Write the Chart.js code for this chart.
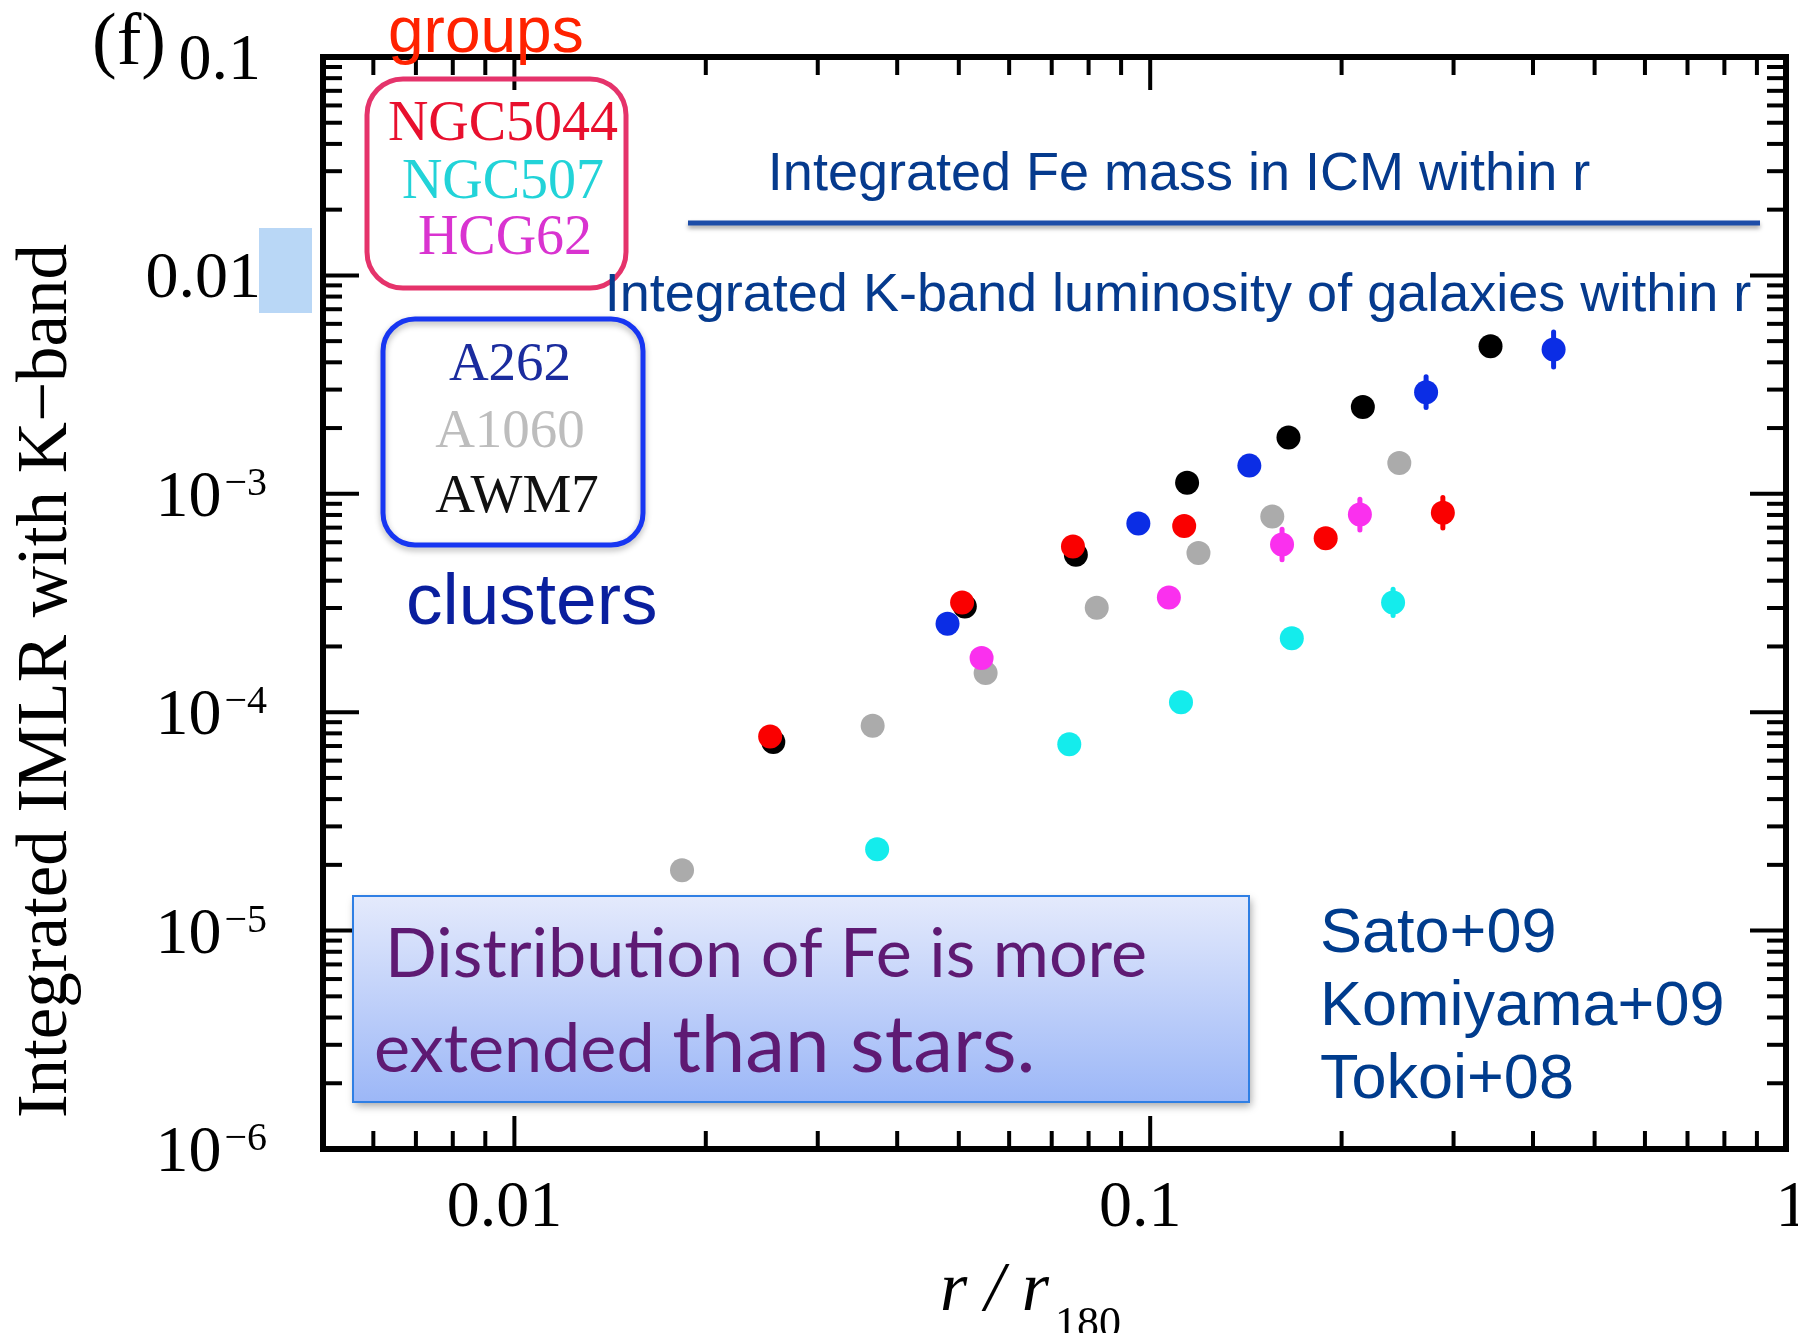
<!DOCTYPE html>
<html>
<head>
<meta charset="utf-8">
<script src="https://cdn.jsdelivr.net/npm/chart.js"></script>
<style>
  html, body { margin: 0; padding: 0; background: #fff; }
  canvas { display: block; }
</style>
</head>
<body>
<canvas id="c" width="1798" height="1333"></canvas>
<script>
// Integrated iron-mass-to-light ratio (IMLR, K band) versus r / r180

// Groups
const rNGC5044    = [0.02525, 0.0506, 0.0756, 0.1131, 0.1888, 0.2886];
const imlrNGC5044 = [7.74e-5, 3.18e-4, 5.74e-4, 7.12e-4, 6.26e-4, 8.19e-4];
const errNGC5044  = [0, 0, 0, 0, 0, 0.07];

const rNGC507     = [0.0372, 0.0746, 0.1118, 0.167, 0.241];
const imlrNGC507  = [2.36e-5, 7.14e-5, 1.11e-4, 2.18e-4, 3.18e-4];
const errNGC507   = [0, 0, 0, 0, 0.06];

const rHCG62      = [0.0543, 0.107, 0.1612, 0.2137];
const imlrHCG62   = [1.77e-4, 3.35e-4, 5.86e-4, 8.03e-4];
const errHCG62    = [0, 0, 0.07, 0.07];

// Clusters
const rA262       = [0.048, 0.0958, 0.1432, 0.2716, 0.431];
const imlrA262    = [2.54e-4, 7.32e-4, 1.346e-3, 2.92e-3, 4.58e-3];
const errA262     = [0, 0, 0, 0.07, 0.08];

const rA1060      = [0.01835, 0.0366, 0.0551, 0.0824, 0.1191, 0.1556, 0.2465];
const imlrA1060   = [1.89e-5, 8.67e-5, 1.51e-4, 3.01e-4, 5.36e-4, 7.87e-4, 1.385e-3];

const rAWM7       = [0.02554, 0.0511, 0.0764, 0.1143, 0.165, 0.216, 0.343];
const imlrAWM7    = [7.3e-5, 3.05e-4, 5.26e-4, 1.123e-3, 1.81e-3, 2.50e-3, 4.74e-3];

// Axis ranges and tick labels
const xRange = [0.005, 1];
const yRange = [1e-6, 0.1];
const xTickValues = [0.01, 0.1, 1];
const xTickLabels = ['0.01', '0.1', '1'];
const yTickValues = [0.1, 0.01, 1e-3, 1e-4, 1e-5, 1e-6];
const yTickBases  = ['0.1', '0.01', '10', '10', '10', '10'];
const yTickExps   = ['', '', '\u22123', '\u22124', '\u22125', '\u22126'];

const SERIF = '"Liberation Serif", "DejaVu Serif", serif';
const SANS  = '"Liberation Sans", Arial, sans-serif';
const CALLOUT = 'Lato, "Open Sans", sans-serif';

function pts(xs, ys) { return xs.map((v, i) => ({ x: v, y: ys[i] })); }

function series(label, xs, ys, color, order, err) {
  return {
    label, data: pts(xs, ys), err: err || null, order,
    pointRadius: 12, pointHoverRadius: 12, pointBorderWidth: 0,
    backgroundColor: color, borderColor: color, showLine: false
  };
}

const datasets = [
  series('AWM7',    rAWM7,    imlrAWM7,    '#000000', 6),
  series('A1060',   rA1060,   imlrA1060,   '#ababab', 5),
  series('A262',    rA262,    imlrA262,    '#0b2de5', 4, errA262),
  series('NGC507',  rNGC507,  imlrNGC507,  '#14ecec', 3, errNGC507),
  series('HCG62',   rHCG62,   imlrHCG62,   '#fa30ee', 2, errHCG62),
  series('NGC5044', rNGC5044, imlrNGC5044, '#fa0000', 1, errNGC5044)
];

function line(ctx, x1, y1, x2, y2) {
  ctx.beginPath(); ctx.moveTo(x1, y1); ctx.lineTo(x2, y2); ctx.stroke();
}

function roundBox(ctx, x, y, w, h, r) {
  ctx.beginPath();
  ctx.moveTo(x + r, y);
  ctx.arcTo(x + w, y, x + w, y + h, r);
  ctx.arcTo(x + w, y + h, x, y + h, r);
  ctx.arcTo(x, y + h, x, y, r);
  ctx.arcTo(x, y, x + w, y, r);
  ctx.closePath();
}

// Frame with inward ticks on all four sides, plus vertical error bars
const framePlugin = {
  id: 'frame',
  beforeDatasetsDraw(chart) {
    const { ctx, chartArea: a, scales: { x, y } } = chart;
    ctx.save();
    ctx.strokeStyle = '#000';
    ctx.lineWidth = 4;
    ctx.lineCap = 'butt';
    for (let d = -3; d <= 0; d++) {
      for (let m = 1; m <= 9; m++) {
        const v = m * Math.pow(10, d);
        if (v < xRange[0] * 1.01 || v > xRange[1] * 0.99) continue;
        const px = x.getPixelForValue(v);
        const len = m === 1 ? 33 : 18;
        line(ctx, px, a.bottom, px, a.bottom - len);
        line(ctx, px, a.top, px, a.top + len);
      }
    }
    for (let d = -6; d <= -2; d++) {
      for (let m = 1; m <= 9; m++) {
        const v = m * Math.pow(10, d);
        if (v < yRange[0] * 1.01 || v > yRange[1] * 0.99) continue;
        const py = y.getPixelForValue(v);
        const len = m === 1 ? 36 : 19;
        line(ctx, a.left, py, a.left + len, py);
        line(ctx, a.right, py, a.right - len, py);
      }
    }
    ctx.lineWidth = 6;
    ctx.strokeRect(a.left, a.top, a.right - a.left, a.bottom - a.top);

    // error bars
    ctx.lineWidth = 5;
    ctx.lineCap = 'round';
    chart.data.datasets.forEach(ds => {
      if (!ds.err) return;
      ctx.strokeStyle = ds.backgroundColor;
      ds.data.forEach((p, j) => {
        const e = ds.err[j];
        if (!e) return;
        const px = x.getPixelForValue(p.x);
        const y1 = y.getPixelForValue(p.y * Math.pow(10, e));
        const y2 = y.getPixelForValue(p.y / Math.pow(10, e));
        line(ctx, px, y1, px, y2);
      });
    });
    ctx.restore();
  },
  afterDraw(chart) {
    const { ctx, scales: { x, y } } = chart;
    ctx.save();
    ctx.fillStyle = '#000';
    ctx.textBaseline = 'alphabetic';

    // x tick labels
    ctx.font = '66px ' + SERIF;
    ctx.textAlign = 'center';
    xTickValues.forEach((v, i) => {
      const shift = v >= 1 ? 6 : -10;
      ctx.fillText(xTickLabels[i], x.getPixelForValue(v) + shift, 1226);
    });

    // y tick labels (powers of ten with superscript exponents)
    ctx.textAlign = 'right';
    yTickValues.forEach((v, i) => {
      const py = y.getPixelForValue(v);
      if (yTickExps[i]) {
        ctx.font = '40px ' + SERIF;
        const ew = ctx.measureText(yTickExps[i]).width;
        ctx.fillText(yTickExps[i], 267, py + 1);
        ctx.font = '66px ' + SERIF;
        ctx.fillText(yTickBases[i], 267 - ew - 3, py + 22);
      } else {
        ctx.font = '66px ' + SERIF;
        ctx.fillText(yTickBases[i], 261, py + 22);
      }
    });

    // panel tag
    ctx.textAlign = 'left';
    ctx.font = '74px ' + SERIF;
    ctx.fillText('(f)', 92, 64);

    // axis titles
    ctx.save();
    ctx.translate(66, 681);
    ctx.rotate(-Math.PI / 2);
    ctx.textAlign = 'center';
    ctx.font = '71px ' + SERIF;
    ctx.fillText('Integrated IMLR with K\u2212band', 0, 0);
    ctx.restore();

    ctx.textAlign = 'left';
    ctx.font = 'italic 70px ' + SERIF;
    ctx.fillText('r / r', 940, 1310);
    ctx.font = '44px ' + SERIF;
    ctx.fillText('180', 1055, 1337);

    // highlight patch beside 0.01
    ctx.fillStyle = '#b9d7f6';
    ctx.fillRect(259, 228, 53, 85);

    // groups box
    ctx.fillStyle = '#ff2200';
    ctx.font = '64px ' + SANS;
    ctx.fillText('groups', 388, 52);
    ctx.strokeStyle = '#e5336b';
    ctx.lineWidth = 5;
    roundBox(ctx, 367, 79, 259, 209, 36);
    ctx.stroke();
    ctx.textAlign = 'center';
    ctx.font = '56px ' + SERIF;
    ctx.fillStyle = '#e8102e'; ctx.fillText('NGC5044', 503, 140);
    ctx.fillStyle = '#22d3d8'; ctx.fillText('NGC507', 503, 198);
    ctx.fillStyle = '#d933d0'; ctx.fillText('HCG62', 505, 254);

    // clusters box
    ctx.save();
    ctx.shadowColor = 'rgba(0,0,0,0.3)';
    ctx.shadowBlur = 6; ctx.shadowOffsetY = 3;
    ctx.strokeStyle = '#1736f2';
    ctx.lineWidth = 5;
    roundBox(ctx, 383, 319, 260, 226, 32);
    ctx.stroke();
    ctx.restore();
    ctx.font = '55px ' + SERIF;
    ctx.fillStyle = '#1b2c9e'; ctx.fillText('A262', 510, 380);
    ctx.fillStyle = '#bdbdbd'; ctx.fillText('A1060', 510, 447);
    ctx.fillStyle = '#111111'; ctx.fillText('AWM7', 517, 512);
    ctx.textAlign = 'left';
    ctx.fillStyle = '#0a1f9e';
    ctx.font = '73px ' + SANS;
    ctx.fillText('clusters', 406, 624);

    // ratio definition
    ctx.textAlign = 'center';
    ctx.fillStyle = '#053a8d';
    ctx.font = '54px ' + SANS;
    ctx.fillText('Integrated Fe mass in ICM within r', 1179, 190);
    ctx.fillText('Integrated K-band luminosity of galaxies within r', 1178, 311);
    ctx.save();
    ctx.shadowColor = 'rgba(0,0,0,0.35)';
    ctx.shadowBlur = 4; ctx.shadowOffsetY = 3;
    ctx.strokeStyle = '#1d4da8';
    ctx.lineWidth = 5;
    line(ctx, 688, 223, 1760, 223);
    ctx.restore();

    // conclusion box
    ctx.save();
    ctx.shadowColor = 'rgba(0,0,0,0.35)';
    ctx.shadowBlur = 8; ctx.shadowOffsetX = 2; ctx.shadowOffsetY = 4;
    const g = ctx.createLinearGradient(0, 896, 0, 1102);
    g.addColorStop(0, '#e4eafc');
    g.addColorStop(1, '#9cb7f7');
    ctx.fillStyle = g;
    ctx.fillRect(353, 896, 896, 206);
    ctx.restore();
    ctx.strokeStyle = '#2f7fe4';
    ctx.lineWidth = 2;
    ctx.strokeRect(353, 896, 896, 206);
    ctx.textAlign = 'left';
    ctx.fillStyle = '#5e1a73';
    ctx.font = '64px ' + CALLOUT;
    const w1 = ctx.measureText('Distribution of Fe is more').width;
    const fs = 64 * 762 / w1;
    ctx.font = fs.toFixed(1) + 'px ' + CALLOUT;
    ctx.fillText('Distribution of Fe is more', 385, 977);
    const lead = 'extended ';
    ctx.fillText(lead, 374, 1072);
    const lw = ctx.measureText(lead).width;
    ctx.font = (fs * 1.17).toFixed(1) + 'px ' + CALLOUT;
    ctx.fillText('than stars.', 374 + lw, 1072);

    // references
    ctx.fillStyle = '#003c8d';
    ctx.font = '63px ' + SANS;
    ctx.fillText('Sato+09', 1320, 952);
    ctx.fillText('Komiyama+09', 1320, 1025);
    ctx.fillText('Tokoi+08', 1320, 1098);
    ctx.restore();
  }
};

new Chart(document.getElementById('c'), {
  type: 'scatter',
  data: { datasets },
  options: {
    responsive: false,
    animation: false,
    devicePixelRatio: 1,
    layout: { padding: { top: 57, right: 6, bottom: 0, left: 0 } },
    plugins: { legend: { display: false }, tooltip: { enabled: false } },
    scales: {
      x: {
        type: 'logarithmic', min: xRange[0], max: xRange[1],
        grid: { display: false }, border: { display: false },
        ticks: { display: false },
        afterFit(s) { s.height = 184; }
      },
      y: {
        type: 'logarithmic', min: yRange[0], max: yRange[1],
        grid: { display: false }, border: { display: false },
        ticks: { display: false },
        afterFit(s) { s.width = 323; }
      }
    }
  },
  plugins: [framePlugin]
});
</script>
</body>
</html>
